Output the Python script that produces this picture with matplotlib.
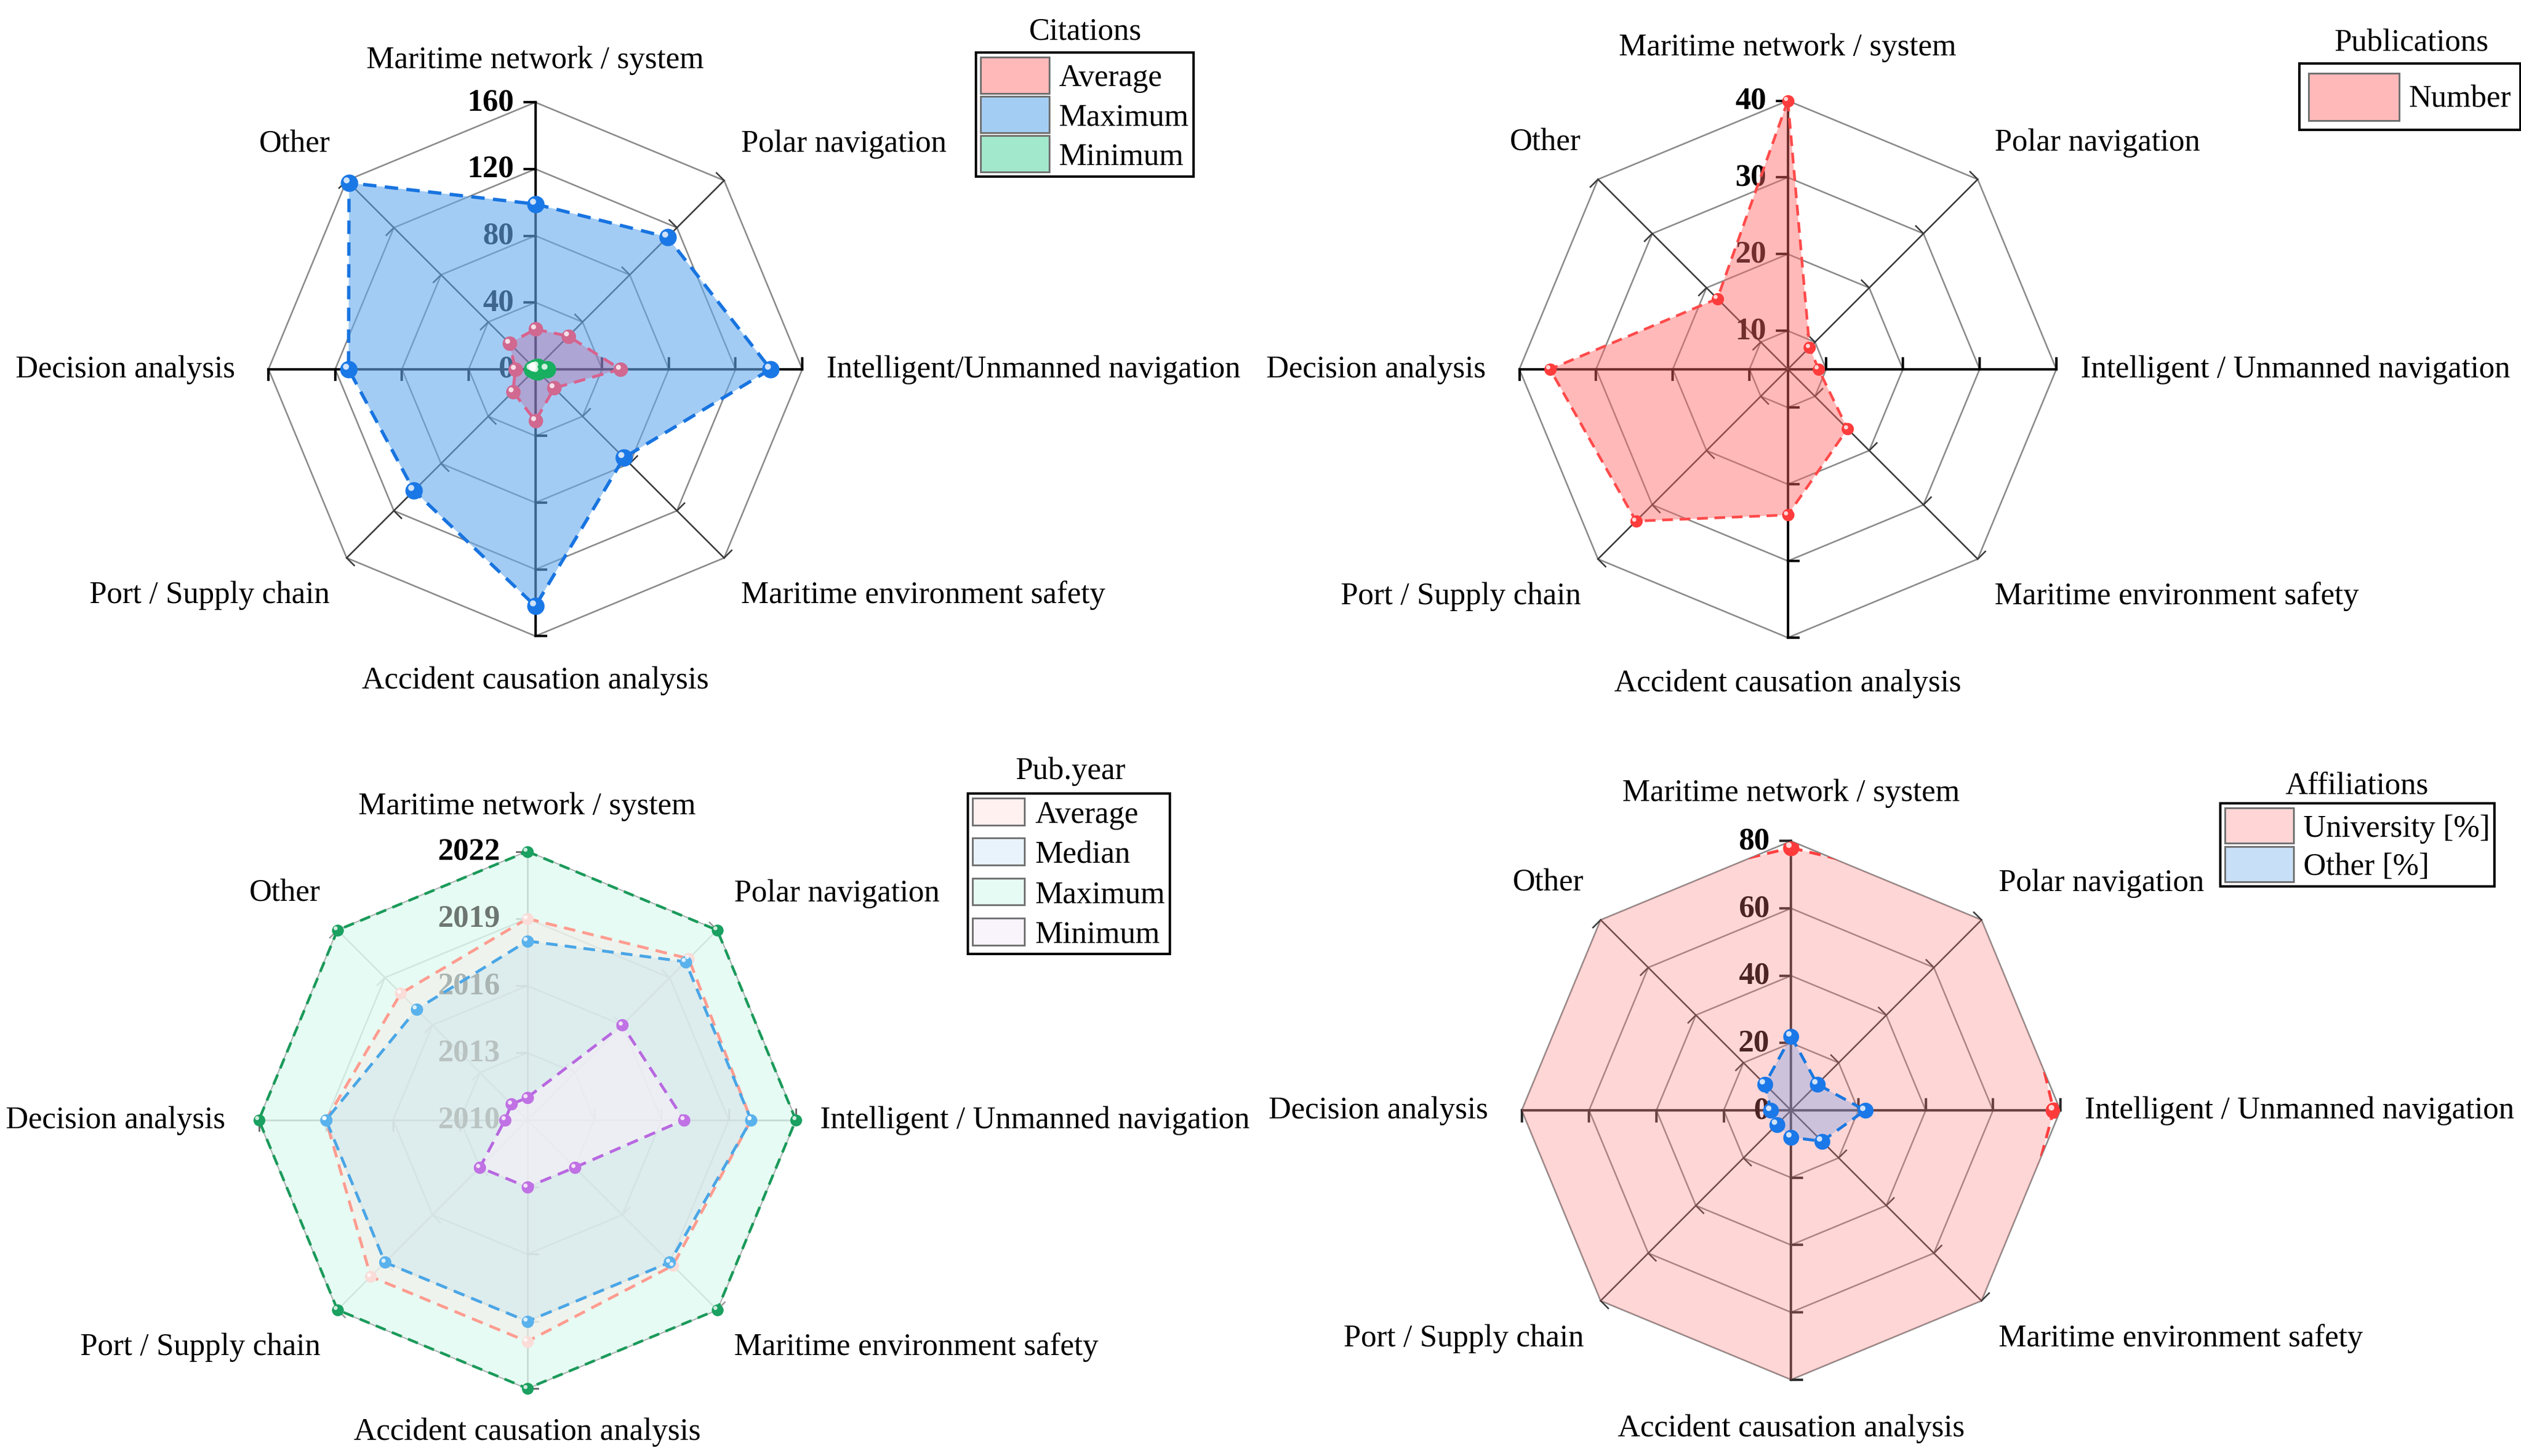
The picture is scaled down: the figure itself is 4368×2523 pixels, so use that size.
import numpy as np
import matplotlib
matplotlib.use("Agg")
import matplotlib.pyplot as plt
from matplotlib.patches import Patch, Polygon
import matplotlib.transforms as mtransforms

# ---------------- data ----------------
categories_p1 = ["Maritime network / system", "Polar navigation", "Intelligent/Unmanned navigation",
                 "Maritime environment safety", "Accident causation analysis", "Port / Supply chain",
                 "Decision analysis", "Other"]
categories = ["Maritime network / system", "Polar navigation", "Intelligent / Unmanned navigation",
              "Maritime environment safety", "Accident causation analysis", "Port / Supply chain",
              "Decision analysis", "Other"]

cit_average = [24, 28, 51, 16, 31, 19, 12, 22]
cit_maximum = [99, 112, 141, 75, 142, 103, 112, 158]
cit_minimum = [1, 2, 7, 2, 1, 1, 2, 1]
cit_ticks = [0, 40, 80, 120, 160]

pub_number = [40, 9, 9, 16, 24, 33, 36, 18]
pub_ticks = [10, 20, 30, 40]

year_average = [2019.0, 2020.2, 2020.0, 2019.2, 2019.9, 2019.9, 2019.0, 2018.0]
year_median = [2018, 2020, 2020, 2019, 2019, 2019, 2019, 2017]
year_maximum = [2022, 2022, 2022, 2022, 2022, 2022, 2022, 2022]
year_minimum = [2011, 2016, 2017, 2013, 2013, 2013, 2011, 2011]
year_ticks = [2010, 2013, 2016, 2019, 2022]

affil_university = [78, 89, 78, 87, 92, 94, 94, 89]
affil_other = [22, 11, 22, 13, 8, 6, 6, 11]
affil_ticks = [0, 20, 40, 60, 80]

# ---------------- setup ----------------
plt.rcParams["font.family"] = ["Liberation Serif", "DejaVu Serif"]
FS = 14.0
W, H = 1568.0, 906.0
fig = plt.figure(figsize=(15.68, 9.0605), dpi=4368 / 15.68)

N = 8
ANG = np.pi / 2 - np.arange(N) * 2 * np.pi / N


def make_axes(cx, cy, R=167.0, half=1.3):
    ax = fig.add_axes([(cx - half * R) / W, 1 - (cy + half * R) / H, 2 * half * R / W, 2 * half * R / H])
    ax.set_xlim(-half, half)
    ax.set_ylim(-half, half)
    ax.axis("off")
    return ax


def xy(values, rmin, rmax, close=True):
    v = np.asarray(values, float)
    r = (v - rmin) / (rmax - rmin)
    x = r * np.cos(ANG)
    y = r * np.sin(ANG)
    if close:
        x = np.append(x, x[0])
        y = np.append(y, y[0])
    return x, y


def draw_grid(ax, rings, rmin, rmax, ring_color, spoke_color, main_color, ring_lw=0.7, spoke_lw=0.7, main_lw=1.1):
    for rv in rings:
        if rv == rmin:
            continue
        x, y = xy([rv] * N, rmin, rmax)
        ax.plot(x, y, color=ring_color, lw=ring_lw, zorder=1, solid_joinstyle="miter")
    TL = 0.04
    for k in range(N):
        ex, ey = np.cos(ANG[k]), np.sin(ANG[k])
        c = main_color if k % 2 == 0 else spoke_color
        lw = main_lw if k % 2 == 0 else spoke_lw
        ax.plot([0, ex], [0, ey], color=c, lw=lw, zorder=1.1)
        for rv in rings:
            if rv == rmin:
                continue
            r = (rv - rmin) / (rmax - rmin)
            px, py = r * ex, r * ey
            ax.plot([px, px - ey * TL], [py, py + ex * TL], color=c, lw=lw, zorder=1.1)


def tick_labels(ax, ticks, rmin, rmax, colors=None, zorder=1.5, xoff=-0.08):
    for i, tv in enumerate(ticks):
        r = (tv - rmin) / (rmax - rmin)
        col = "black" if colors is None else colors[i]
        ax.text(xoff, r, str(tv), ha="right", va="center", fontsize=FS, fontweight="bold",
                color=col, zorder=zorder)


def cat_labels(ax, cats, top=1.175, bottom=-1.17):
    pos = [(0.0, top, "center"), (0.77, 0.845, "left"), (1.09, 0.0, "left"), (0.77, -0.845, "left"),
           (0.0, bottom, "center"), (-0.77, -0.845, "right"), (-1.125, 0.0, "right"), (-0.77, 0.845, "right")]
    for (lx, ly, ha), t in zip(pos, cats):
        ax.text(lx, ly, t, ha=ha, va="center", fontsize=FS, color="black", clip_on=False)


def spheres(ax, values, rmin, rmax, color, size, zorder=4, clip=None):
    x, y = xy(values, rmin, rmax, close=False)
    m, = ax.plot(x, y, ls="none", marker="o", ms=size, mfc=color, mec=color, mew=0.3, zorder=zorder)
    off = mtransforms.offset_copy(ax.transData, fig=fig, x=-size * 0.17, y=size * 0.17, units="points")
    h, = ax.plot(x, y, ls="none", marker="o", ms=size * 0.36, mfc="white", mec="none", alpha=0.8,
                 zorder=zorder + 0.01, transform=off)
    if clip is not None:
        m.set_clip_path(clip)
        h.set_clip_path(clip)


def series(ax, values, rmin, rmax, fill, alpha, line, lw, zf, zl, clip=None, dash=(4, 2.5)):
    x, y = xy(values, rmin, rmax)
    f = ax.fill(x, y, color=fill, alpha=alpha, lw=0, zorder=zf)[0]
    l, = ax.plot(x, y, color=line, lw=lw, ls=(0, dash), zorder=zl)
    if clip is not None:
        f.set_clip_path(clip)
        l.set_clip_path(clip)


def legend(entries, x, y, hl, hh, htp, lsp, pad=0.15, title=None, tx=0, ty=0):
    handles = [Patch(facecolor=c, edgecolor="#707070", lw=0.8, label=t) for t, c in entries]
    lg = fig.legend(handles=handles, loc="upper left", bbox_to_anchor=(x / W, 1 - y / H),
                    bbox_transform=fig.transFigure, borderaxespad=0, fontsize=FS, frameon=True,
                    fancybox=False, framealpha=1, edgecolor="black", handlelength=hl, handleheight=hh,
                    handletextpad=htp, labelspacing=lsp, borderpad=pad)
    lg.get_frame().set_linewidth(1.1)
    fig.text(tx / W, 1 - ty / H, title, ha="center", va="center", fontsize=FS)


# ---------------- panel 1: citations ----------------
ax1 = make_axes(333, 230, 166)
r0, r1 = cit_ticks[0], cit_ticks[-1]
draw_grid(ax1, cit_ticks, r0, r1, "#8a8a8a", "#3a3a3a", "black")
tick_labels(ax1, cit_ticks, r0, r1)
series(ax1, cit_maximum, r0, r1, "#66AAEE", 0.6, "#1874E0", 1.5, 2.0, 3.0)
series(ax1, cit_average, r0, r1, "#C8407F", 0.28, "#D9628E", 1.3, 2.1, 3.1)
series(ax1, cit_minimum, r0, r1, "#20B070", 0.4, "#15A55A", 1.2, 2.2, 3.2)
spheres(ax1, cit_maximum, r0, r1, "#1A78E6", 7.5)
spheres(ax1, cit_average, r0, r1, "#D06890", 6.2)
spheres(ax1, cit_minimum, r0, r1, "#18B060", 7.5)
cat_labels(ax1, categories_p1, top=1.16, bottom=-1.165)
legend([("Average", "#FFB9B9"), ("Maximum", "#A4CDF4"), ("Minimum", "#A2E8CC")],
       607, 33, 2.2, 1.4, 0.3, 0.1, title="Citations", tx=675, ty=20)

# ---------------- panel 2: publications ----------------
ax2 = make_axes(1112, 230, 167)
p0, p1 = 5, pub_ticks[-1]
draw_grid(ax2, pub_ticks, p0, p1, "#8a8a8a", "#3a3a3a", "black")
tick_labels(ax2, pub_ticks, p0, p1)
series(ax2, pub_number, p0, p1, "#FF6464", 0.45, "#FF4A4A", 1.2, 2.0, 3.0)
spheres(ax2, pub_number, p0, p1, "#FF3C3C", 5.2)
cat_labels(ax2, categories, top=1.2, bottom=-1.17)
legend([("Number", "#FFB9B9")], 1430, 40, 2.9, 1.95, 0.3, 0.2, pad=0.3, title="Publications", tx=1500, ty=27)

# ---------------- panel 3: publication year ----------------
ax3 = make_axes(328, 697, 167)
y0, y1 = year_ticks[0], year_ticks[-1]
draw_grid(ax3, year_ticks, y0, y1, "#9a9a9a", "#9a9a9a", "#6a6a6a", main_lw=0.8)
series(ax3, year_maximum, y0, y1, "#E0FAF1", 0.8, "#1A9A5A", 1.2, 2.0, 3.0)
series(ax3, year_average, y0, y1, "#FFE6E3", 0.35, "#FF9C90", 1.3, 2.1, 3.1)
series(ax3, year_median, y0, y1, "#B8DDF0", 0.3, "#4AA6E6", 1.3, 2.2, 3.2)
series(ax3, year_minimum, y0, y1, "#FEF0FB", 0.5, "#B868E0", 1.3, 2.3, 3.3)
tick_labels(ax3, year_ticks, y0, y1, colors=["#BAC4C2", "#B8C2C0", "#AAB4B2", "#6E7672", "black"],
            zorder=2.5, xoff=-0.1)
spheres(ax3, year_maximum, y0, y1, "#1AA060", 5.0)
spheres(ax3, year_average, y0, y1, "#FADCD8", 5.0)
spheres(ax3, year_median, y0, y1, "#5AB2EC", 5.2)
spheres(ax3, year_minimum, y0, y1, "#C072E4", 5.2)
cat_labels(ax3, categories, top=1.17, bottom=-1.16)
legend([("Average", "#FFF1EF"), ("Median", "#E8F3FC"), ("Maximum", "#E6FBF4"), ("Minimum", "#F9F3FC")],
       602, 494, 1.65, 0.95, 0.35, 0.28, title="Pub.year", tx=666, ty=480)

# ---------------- panel 4: affiliations ----------------
ax4 = make_axes(1114, 691, 167.5)
a0, a1 = affil_ticks[0], affil_ticks[-1]
draw_grid(ax4, affil_ticks, a0, a1, "#8a8a8a", "#3a3a3a", "#2a2a2a")
tick_labels(ax4, affil_ticks, a0, a1)
ox, oy = xy([a1] * N, a0, a1, close=False)
clip = Polygon(np.column_stack([ox, oy]), closed=True, transform=ax4.transData)
series(ax4, affil_university, a0, a1, "#FF7878", 0.3, "#FF4040", 1.3, 2.0, 3.0, clip=clip)
spheres(ax4, affil_university, a0, a1, "#FF3A3A", 7.0, clip=clip)
series(ax4, affil_other, a0, a1, "#709EE5", 0.35, "#1A78E0", 1.3, 2.1, 3.1)
spheres(ax4, affil_other, a0, a1, "#1A78E8", 6.8)
cat_labels(ax4, categories, top=1.18, bottom=-1.18)
legend([("University [%]", "#FFD5D5"), ("Other [%]", "#C8E0F7")],
       1381, 500, 2.2, 1.36, 0.3, 0.1, title="Affiliations", tx=1466, ty=489)

fig.savefig("out.png", dpi=4368 / 15.68)
